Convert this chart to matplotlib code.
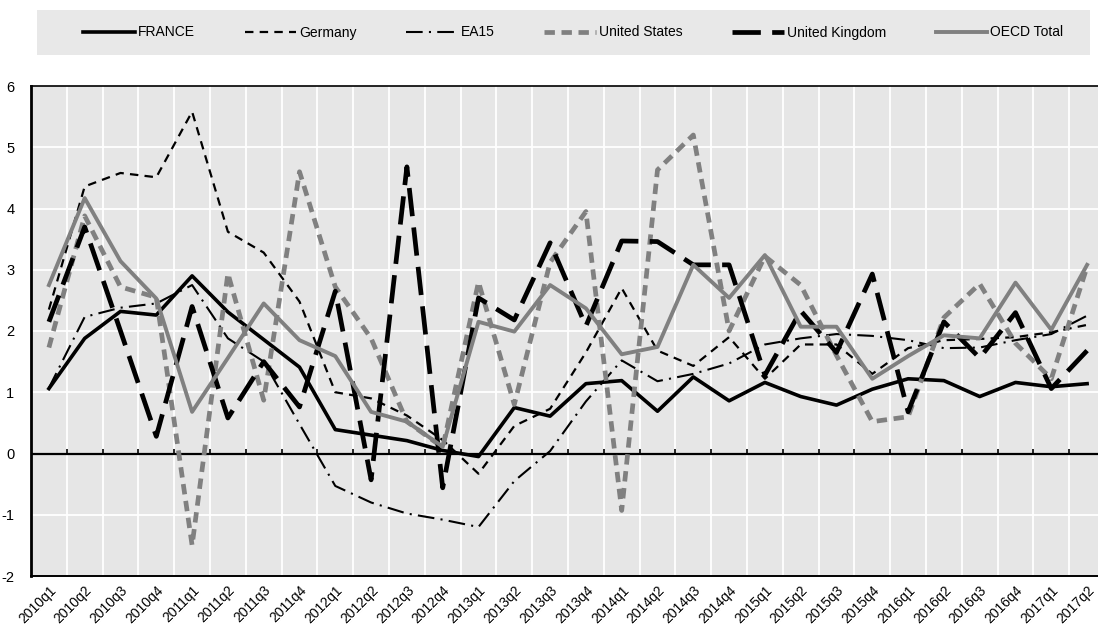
import numpy as np
import matplotlib
matplotlib.use("Agg")
import matplotlib.pyplot as plt
from matplotlib.patches import Rectangle

plt.rcParams['font.family'] = ['Liberation Sans', 'DejaVu Sans']

quarters = ['2010q1', '2010q2', '2010q3', '2010q4', '2011q1', '2011q2', '2011q3', '2011q4',
            '2012q1', '2012q2', '2012q3', '2012q4', '2013q1', '2013q2', '2013q3', '2013q4',
            '2014q1', '2014q2', '2014q3', '2014q4', '2015q1', '2015q2', '2015q3', '2015q4',
            '2016q1', '2016q2', '2016q3', '2016q4', '2017q1', '2017q2']

france = [1.06, 1.88, 2.32, 2.26, 2.90, 2.31, 1.86, 1.41, 0.39, 0.30, 0.21, 0.05, -0.05, 0.75, 0.61,
          1.14, 1.19, 0.69, 1.25, 0.86, 1.16, 0.93, 0.79, 1.05, 1.22, 1.19, 0.93, 1.16, 1.09, 1.14]
germany = [2.35, 4.36, 4.58, 4.51, 5.58, 3.62, 3.28, 2.48, 1.00, 0.90, 0.62, 0.22, -0.33, 0.45, 0.73,
           1.65, 2.70, 1.68, 1.43, 1.90, 1.22, 1.78, 1.78, 1.30, 1.72, 1.85, 1.87, 1.90, 1.98, 2.10]
ea15 = [1.07, 2.23, 2.38, 2.45, 2.75, 1.88, 1.50, 0.48, -0.53, -0.80, -0.98, -1.08, -1.20, -0.45, 0.04,
        0.85, 1.52, 1.18, 1.30, 1.47, 1.78, 1.88, 1.95, 1.92, 1.85, 1.72, 1.73, 1.85, 1.95, 2.25]
united_states = [1.73, 3.88, 2.72, 2.55, -1.50, 2.94, 0.87, 4.60, 2.72, 1.88, 0.52, 0.10, 2.80, 0.80, 3.12,
                 3.95, -0.93, 4.63, 5.20, 2.00, 3.22, 2.75, 1.60, 0.52, 0.60, 2.22, 2.77, 1.80, 1.22, 3.05]
united_kingdom = [2.15, 3.70, 2.00, 0.28, 2.40, 0.58, 1.50, 0.76, 2.65, -0.43, 4.68, -0.56, 2.54, 2.18, 3.44,
                  2.08, 3.47, 3.46, 3.08, 3.08, 1.28, 2.33, 1.65, 2.93, 0.68, 2.15, 1.56, 2.30, 1.06, 1.68]
oecd_total = [2.75, 4.17, 3.14, 2.53, 0.68, 1.56, 2.45, 1.85, 1.59, 0.68, 0.52, 0.11, 2.15, 1.99, 2.75,
              2.37, 1.62, 1.74, 3.08, 2.54, 3.24, 2.07, 2.07, 1.22, 1.59, 1.93, 1.88, 2.79, 2.02, 3.08]

W, H = 1098, 624
fig = plt.figure(figsize=(W / 100, H / 100), dpi=100)
ax = fig.add_axes([31 / W, 48 / H, 1074 / W, 490 / H])
ax.set_facecolor('#e6e6e6')

x = np.arange(len(quarters))
gray = '#808080'

ax.plot(x, france, color='black', lw=2.6, label='FRANCE')
ax.plot(x, germany, color='black', lw=1.6, dashes=(3.8, 2.8), label='Germany')
ax.plot(x, ea15, color='black', lw=1.5, dashes=(8, 3, 1, 3), label='EA15')
ax.plot(x, united_states, color=gray, lw=3.4, dashes=(2.2, 1.4), label='United States')
ax.plot(x, united_kingdom, color='black', lw=3.4, dashes=(6, 2.4), label='United Kingdom')
ax.plot(x, oecd_total, color=gray, lw=2.8, label='OECD Total')

ax.set_xlim(-0.5, len(quarters) - 0.5)
ax.set_ylim(-2, 6)

# grid
bounds = np.arange(len(quarters) - 1) + 0.5
for b in bounds:
    ax.axvline(b, color='white', lw=1.3, zorder=0.5)
for yv in range(-1, 6):
    ax.axhline(yv, color='white', lw=1.3, zorder=0.5)
ax.axhline(0, color='black', lw=1.6, zorder=1.5)
ax.vlines(bounds, 0, 0.07, color='black', lw=1.2, zorder=1.5)

ax.set_yticks(range(-2, 7))
ax.set_yticklabels([str(v) for v in range(-2, 7)], fontsize=10.5)
ax.tick_params(axis='y', length=0, pad=12)
ax.set_xticks(x)
ax.set_xticklabels(quarters, rotation=45, ha='right', va='top', rotation_mode='anchor', fontsize=10)
ax.tick_params(axis='x', length=0, pad=5)

ax.spines['left'].set_linewidth(2.0)
ax.spines['top'].set_linewidth(1.2)
ax.spines['bottom'].set_linewidth(1.4)
ax.spines['right'].set_visible(False)

# legend box
fig.patches.append(Rectangle((37 / W, 1 - 55 / H), (1090 - 37) / W, 45 / H,
                             transform=fig.transFigure, facecolor='#e8e8e8',
                             edgecolor='none', zorder=0))
handles, labels = ax.get_legend_handles_labels()
fig.legend(handles, labels, loc='center', bbox_to_anchor=(573.5 / W, 1 - 32.5 / H), ncol=6,
           frameon=False, fontsize=10, handlelength=3.7, handletextpad=0.25, columnspacing=3.55)

fig.savefig('out.png', dpi=100)
